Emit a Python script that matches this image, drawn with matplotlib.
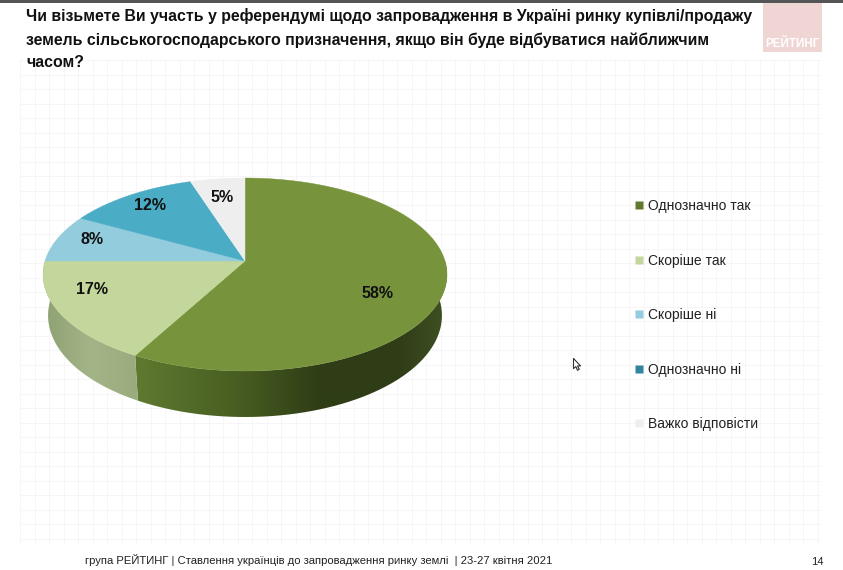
import numpy as np
import matplotlib
matplotlib.use('Agg')
import matplotlib.pyplot as plt
from matplotlib.lines import Line2D
from matplotlib.path import Path
from matplotlib.patches import PathPatch
from matplotlib.colors import to_rgb

categories = ['Однозначно так', 'Скоріше так', 'Скоріше ні', 'Однозначно ні', 'Важко відповісти']
values = [58, 17, 8, 12, 5]
labels = ['58%', '17%', '8%', '12%', '5%']
colors = ['#77933c', '#c3d69b', '#93cddd', '#4bacc6', '#eeeeee']
legend_colors = ['#5f7a30', '#c3d69b', '#93cddd', '#31859c', '#eeeeee']
label_xy = [(378, 294), (92, 289), (92, 239), (150, 206), (222, 197)]
title = ('Чи візьмете Ви участь у референдумі щодо запровадження в Україні ринку купівлі/продажу\n'
         'земель сільськогосподарського призначення, якщо він буде відбуватися найближчим\n'
         'часом?')
footer = 'група РЕЙТИНГ | Ставлення українців до запровадження ринку землі  | 23-27 квітня 2021'
page = '14'

plt.rcParams['font.family'] = ['Liberation Sans', 'DejaVu Sans']
fig = plt.figure(figsize=(8.43, 5.70), dpi=100, facecolor='white')
ax = fig.add_axes([0, 0, 1, 1])
ax.set_xlim(0, 843)
ax.set_ylim(570, 0)
ax.axis('off')

# faint slide grid
for gx in np.arange(20, 822, 14.5):
    ax.plot([gx, gx], [60, 543], color='#f5f5f5', lw=0.6, zorder=0)
for gy in np.arange(60, 544, 14.5):
    ax.plot([20, 820], [gy, gy], color='#f5f5f5', lw=0.6, zorder=0)

# top dark band and logo
ax.fill_between([0, 843], 0, 2.5, color='#555555', lw=0, zorder=1)
ax.fill_between([763, 822], 2.5, 52, color='#efd6d4', lw=0, zorder=1)
ax.text(792.5, 44, 'РЕЙТИНГ', color='white', fontsize=8.4, fontweight='bold', ha='center', va='center', zorder=2)


def project(theta):
    """Perspective projection of a unit-circle angle (clockwise from the top)."""
    u, v = np.sin(theta), np.cos(theta)
    b = 0.14
    w = 1 + b * v
    return 245 + 200 * u / w, 261 - 94.6 * v / w


def lower(x, y):
    return 245 + 0.975 * (x - 245), 275 + 1.052 * (y - 275) + 41


fractions = np.cumsum([0] + values) / sum(values)
edges = 2 * np.pi * fractions

# side wall with a horizontal gradient clipped to the rim band
wall_stops = {
    0: [(135, '#5f7a30'), (230, '#4a6022'), (320, '#2f3d16'), (400, '#303d18'), (447, '#3f5122')],
    1: [(43, '#8ea173'), (90, '#a3b487'), (136, '#9aab7d')],
}
for i in (0, 1):
    thetas = np.linspace(edges[i], edges[i + 1], 300)
    xs, ys = project(thetas)
    lx, ly = lower(xs, ys)
    stops = wall_stops[i]
    px = [s[0] for s in stops]
    pc = np.array([to_rgb(s[1]) for s in stops])
    grid = np.linspace(30, 460, 430)
    img = np.stack([np.interp(grid, px, pc[:, k]) for k in range(3)], axis=-1)[None, :, :]
    im = ax.imshow(img, extent=(30, 460, 430, 260), aspect='auto', interpolation='bilinear', zorder=3)
    band = np.column_stack([np.r_[xs, lx[::-1], xs[0]], np.r_[ys, ly[::-1], ys[0]]])
    clip = PathPatch(Path(band), transform=ax.transData, fc='none', ec='none')
    ax.add_patch(clip)
    im.set_clip_path(clip)
ax.set_xlim(0, 843)
ax.set_ylim(570, 0)

# top face
for i, c in enumerate(colors):
    thetas = np.linspace(edges[i], edges[i + 1], 200)
    xs, ys = project(thetas)
    ax.fill(np.r_[245, xs], np.r_[261, ys], color=c, lw=0.3, zorder=4)
    ax.text(*label_xy[i], labels[i], fontsize=11.5, fontweight='bold', color='#111111',
            ha='center', va='center', zorder=5)

# legend
handles = [Line2D([], [], ls='none', marker='s', ms=5.2, mfc=c, mec='none') for c in legend_colors]
ax.legend(handles, categories, loc='upper left', bbox_to_anchor=(620 / 843, 1 - 188 / 570), frameon=False,
          fontsize=10.0, labelspacing=2.92, handletextpad=0.0, handlelength=1.2, borderpad=0.3,
          labelcolor='#222222')

# title and footer
ax.text(26, 8.5, title, fontsize=11.4, fontweight='bold', color='#111111', va='top', ha='left', linespacing=1.6, zorder=6)
ax.text(85, 560, footer, fontsize=8.1, color='#222222', va='center', ha='left')
ax.text(817, 562, page, fontsize=8.1, color='#222222', va='center', ha='center')

# screen pointer
cursor = Path(np.array([(0, 0), (0, 15), (3.5, 12), (6, 17.5), (8.5, 16), (6, 11), (10.5, 11), (0, 0)]) * [1, -1])
ax.plot([573], [358], marker=cursor, ms=17, mfc='white', mec='#333333', mew=0.8, ls='none', zorder=7)

fig.savefig('out.png', dpi=100)
